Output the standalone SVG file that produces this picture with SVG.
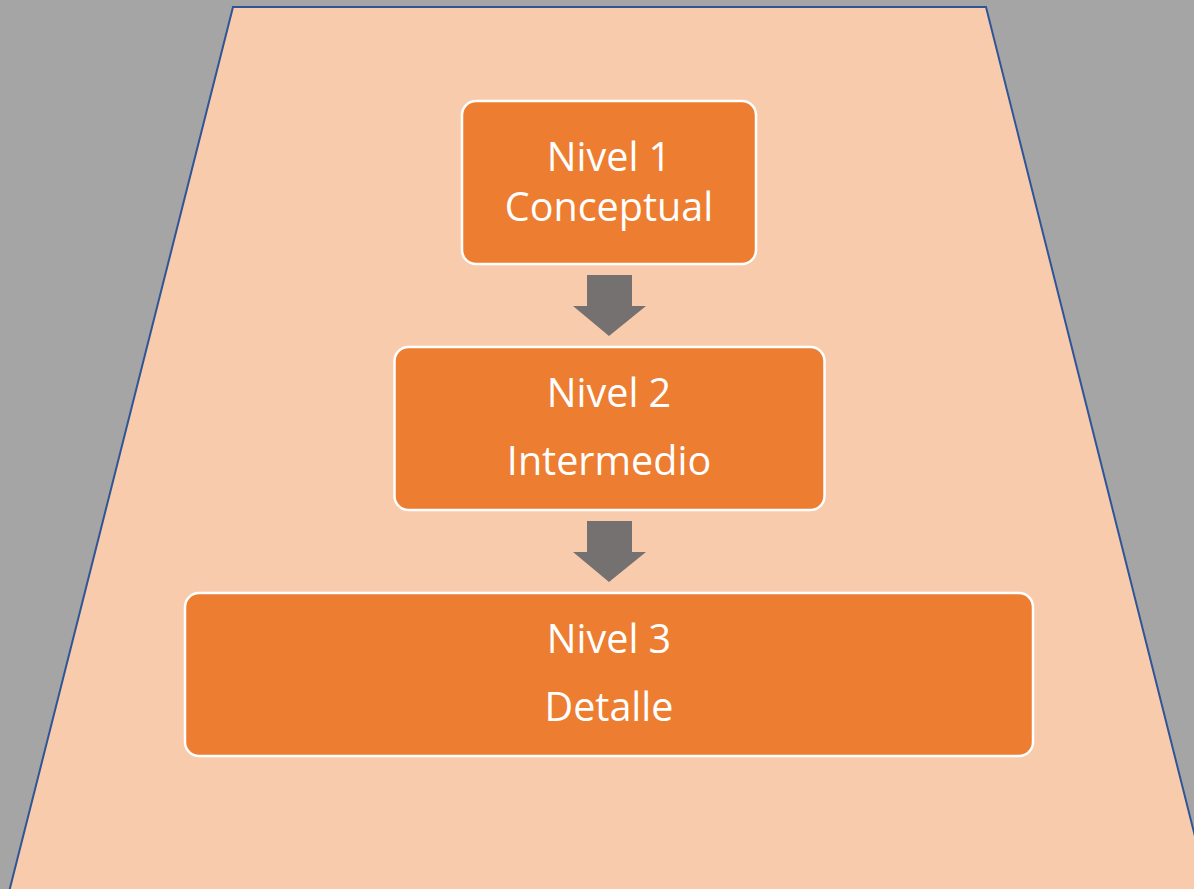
<svg xmlns="http://www.w3.org/2000/svg" width="1194" height="889" viewBox="0 0 1194 889">
<style>
.box{fill:#ED7D31;stroke:#FFFFFF;stroke-width:2.5}
.lbl{font-family:"Open Sans","Liberation Sans",sans-serif;font-size:39.5px;fill:#FFFFFF;text-anchor:middle}
.arr{fill:#767171}
</style>
<rect width="1194" height="889" fill="#A5A5A5"/>
<polygon points="233,7 986,7 1210,896 8,896" fill="#F8CBAD" stroke="#2F5597" stroke-width="2"/>
<g id="connectors">
<polygon class="arr" points="587,275 632,275 632,306 646,306 609,336 573,306 587,306"/>
<polygon class="arr" points="587,521 632,521 632,552 646,552 609,582 573,552 587,552"/>
</g>
<g id="node1">
<rect class="box" x="462" y="101" width="294" height="163" rx="14"/>
<text class="lbl" x="609" y="171">Nivel 1</text>
<text class="lbl" x="609" y="221">Conceptual</text>
</g>
<g id="node2">
<rect class="box" x="394.5" y="347" width="430" height="163" rx="14"/>
<text class="lbl" x="609" y="407">Nivel 2</text>
<text class="lbl" x="609" y="475">Intermedio</text>
</g>
<g id="node3">
<rect class="box" x="185" y="593" width="848" height="163" rx="14"/>
<text class="lbl" x="609" y="653">Nivel 3</text>
<text class="lbl" x="609" y="721">Detalle</text>
</g>
</svg>
